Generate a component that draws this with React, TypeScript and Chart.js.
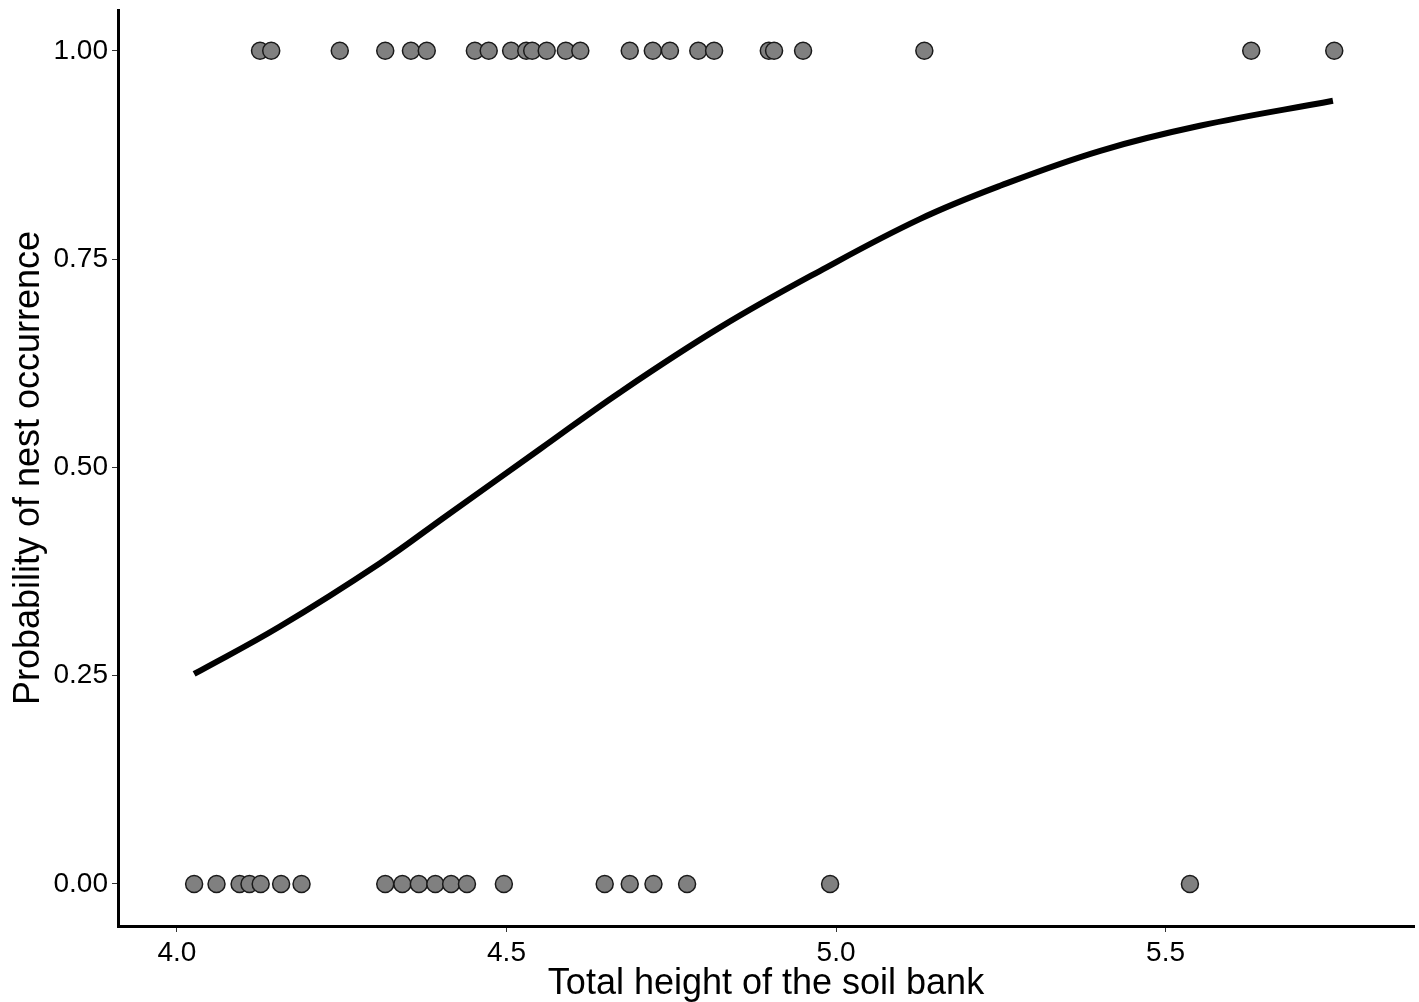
import React, { useEffect, useRef } from "react";
import { Chart, registerables } from "chart.js";

Chart.register(...registerables);

// Observed nests (y = 1) : total height of soil bank
const presentX = [
  4.126, 4.143, 4.247, 4.316, 4.355, 4.379, 4.452, 4.473, 4.507, 4.53, 4.539,
  4.561, 4.59, 4.612, 4.687, 4.722, 4.748, 4.791, 4.815, 4.898, 4.906, 4.95,
  5.134, 5.63, 5.756,
];
// No nest (y = 0)
const absentX = [
  4.026, 4.06, 4.095, 4.11, 4.127, 4.158, 4.189, 4.316, 4.342, 4.367, 4.392,
  4.416, 4.44, 4.496, 4.649, 4.687, 4.723, 4.774, 4.991, 5.537,
];
// Fitted curve
const curveX = [
  4.026, 4.156, 4.308, 4.409, 4.551, 4.672, 4.824, 4.976, 5.127, 5.249, 5.401,
  5.552, 5.754,
];
const curveY = [
  0.252, 0.309, 0.385, 0.442, 0.522, 0.59, 0.668, 0.736, 0.798, 0.838, 0.88,
  0.91, 0.94,
];
const xTicks = [4.0, 4.5, 5.0, 5.5];
const yTicks = [0.0, 0.25, 0.5, 0.75, 1.0];

const FONT = "'Liberation Sans', Arial, Helvetica, sans-serif";

export default function App() {
  const ref = useRef<HTMLCanvasElement | null>(null);

  useEffect(() => {
    if (!ref.current) return;
    const points = [
      ...presentX.map((x) => ({ x, y: 1 })),
      ...absentX.map((x) => ({ x, y: 0 })),
    ];
    const chart = new Chart(ref.current, {
      type: "scatter",
      data: {
        datasets: [
          {
            data: curveX.map((x, i) => ({ x, y: curveY[i] })),
            showLine: true,
            borderColor: "#000",
            borderWidth: 6,
            pointRadius: 0,
            tension: 0.4,
            borderCapStyle: "butt",
          },
          {
            data: points,
            pointRadius: 8.5,
            pointBackgroundColor: "#808080",
            pointBorderColor: "#1a1a1a",
            pointBorderWidth: 1.5,
          },
        ],
      },
      options: {
        animation: false,
        responsive: false,
        devicePixelRatio: 1,
        layout: {
          autoPadding: false,
          padding: { top: 10, right: 5, left: 0, bottom: 0 },
        },
        plugins: {
          legend: { display: false },
          tooltip: { enabled: false },
        },
        scales: {
          x: {
            type: "linear",
            min: 3.9105,
            max: 5.877,
            afterFit: (s: any) => {
              s.height = 76;
              s.paddingLeft = 0;
              s.paddingRight = 0;
            },
            afterBuildTicks: (s: any) => {
              s.ticks = xTicks.map((v) => ({ value: v }));
            },
            ticks: {
              color: "#000",
              font: { family: FONT, size: 28 },
              padding: 4,
              callback: (v: any) => Number(v).toFixed(1),
            },
            grid: {
              drawOnChartArea: false,
              drawTicks: true,
              tickLength: 6,
              color: "#333",
              lineWidth: 1,
            },
            border: { display: true, color: "#000", width: 3 },
            title: {
              display: true,
              text: "Total height of the soil bank",
              color: "#000",
              font: { family: FONT, size: 36, lineHeight: 1 },
              padding: { top: 0, bottom: 0 },
            },
          },
          y: {
            type: "linear",
            min: -0.0505,
            max: 1.049,
            afterFit: (s: any) => {
              s.width = 118;
              s.paddingTop = 0;
              s.paddingBottom = 0;
            },
            afterBuildTicks: (s: any) => {
              s.ticks = yTicks.map((v) => ({ value: v }));
            },
            ticks: {
              color: "#000",
              font: { family: FONT, size: 28 },
              padding: 4,
              callback: (v: any) => Number(v).toFixed(2),
            },
            grid: {
              drawOnChartArea: false,
              drawTicks: true,
              tickLength: 6,
              color: "#333",
              lineWidth: 1,
            },
            border: { display: true, color: "#000", width: 3 },
            title: {
              display: true,
              text: "Probability of nest occurrence",
              color: "#000",
              font: { family: FONT, size: 36, lineHeight: 1 },
              padding: { top: 11, bottom: 11 },
            },
          },
        },
      },
    });
    return () => chart.destroy();
  }, []);

  return (
    <div
      style={{
        position: "fixed",
        left: 0,
        top: 0,
        width: 1419,
        height: 1002,
        background: "#fff",
      }}
    >
      <canvas ref={ref} width={1419} height={1002} />
    </div>
  );
}
